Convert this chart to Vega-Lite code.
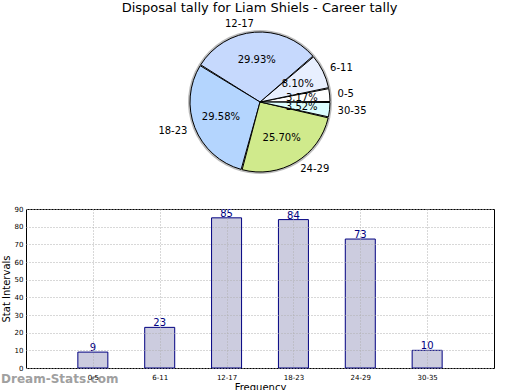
{
  "$schema": "https://vega.github.io/schema/vega-lite/v6.json",
  "padding": {"left": 0, "top": 2, "right": 0, "bottom": 0},
  "background": "white",
  "config": {
    "font": "DejaVu Sans",
    "view": {"stroke": "black", "strokeWidth": 1},
    "concat": {"spacing": 17}
  },
  "title": {"text": "Disposal tally for Liam Shiels - Career tally", "fontSize": 13, "fontWeight": "normal", "font": "DejaVu Sans", "color": "black", "offset": 2, "anchor": "middle", "dx": 12},
  "data": {
    "values": [
      {"idx": 0, "range": "0-5", "count": 9, "pct": "3.17%"},
      {"idx": 1, "range": "6-11", "count": 23, "pct": "8.10%"},
      {"idx": 2, "range": "12-17", "count": 85, "pct": "29.93%"},
      {"idx": 3, "range": "18-23", "count": 84, "pct": "29.58%"},
      {"idx": 4, "range": "24-29", "count": 73, "pct": "25.70%"},
      {"idx": 5, "range": "30-35", "count": 10, "pct": "3.52%"}
    ]
  },
  "vconcat": [
    {
      "width": 468,
      "height": 170,
      "view": {"stroke": null},
      "encoding": {
        "theta": {"field": "count", "type": "quantitative", "stack": true, "scale": {"range": [1.5708, -4.7124]}},
        "order": {"field": "idx", "type": "quantitative"}
      },
      "layer": [
        {
          "mark": {"type": "arc", "outerRadius": 72, "opacity": 0.5},
          "encoding": {"color": {"value": "#777777"}}
        },
        {
          "mark": {"type": "arc", "outerRadius": 70, "stroke": "black", "strokeWidth": 1, "padAngle": 0.015},
          "encoding": {
            "color": {"field": "range", "type": "nominal",
              "scale": {"domain": ["0-5", "6-11", "12-17", "18-23", "24-29", "30-35"],
                        "range": ["#ffffff", "#e8effe", "#c6d9fd", "#b4d5fe", "#d0ea8c", "#dbfdfe"]},
              "legend": null}
          }
        },
        {
          "mark": {"type": "text", "radius": 42, "fontSize": 10},
          "encoding": {"text": {"field": "pct", "type": "nominal"}, "color": {"value": "black"}}
        },
        {
          "mark": {"type": "text", "radius": 78, "fontSize": 10, "align": "left"},
          "encoding": {
            "text": {"field": "range", "type": "nominal", "condition": {"test": "datum.idx == 2 || datum.idx == 3", "value": ""}},
            "color": {"value": "black"}
          }
        },
        {
          "mark": {"type": "text", "radius": 78, "fontSize": 10, "align": "right"},
          "encoding": {
            "text": {"field": "range", "type": "nominal", "condition": {"test": "datum.idx != 2 && datum.idx != 3", "value": ""}},
            "color": {"value": "black"}
          }
        }
      ]
    },
    {
      "width": 468,
      "height": 159,
      "title": {"text": "Dream-Stats.com", "orient": "bottom", "anchor": "start", "frame": "bounds", "fontSize": 12, "fontWeight": "bold", "color": "#a0a0a0", "offset": -18},
      "encoding": {
        "x": {"field": "range", "type": "ordinal",
          "scale": {"type": "point", "padding": 1, "domain": ["0-5", "6-11", "12-17", "18-23", "24-29", "30-35"]},
          "axis": {"title": "Frequency", "titleFontSize": 10, "titleFontWeight": "normal", "titlePadding": 2, "titleColor": "black",
                   "labelFontSize": 7, "labelAngle": 0, "labelColor": "black", "ticks": false, "labelPadding": 5,
                   "grid": true, "gridDash": [1, 2], "gridColor": "#b0b0b0", "domain": false, "zindex": 1}},
        "y": {"field": "count", "type": "quantitative",
          "scale": {"domain": [0, 90], "nice": false},
          "axis": {"title": "Stat Intervals", "titleFontSize": 10, "titleFontWeight": "normal", "titlePadding": 3, "titleColor": "black",
                   "labelFontSize": 7, "labelColor": "black", "values": [0, 10, 20, 30, 40, 50, 60, 70, 80, 90],
                   "ticks": false, "labelPadding": 3, "grid": true, "gridDash": [1, 2], "gridColor": "#b0b0b0", "domain": false, "zindex": 1}}
      },
      "layer": [
        {"mark": {"type": "bar", "width": 30, "fill": "#ccccdf", "stroke": "#000080", "strokeWidth": 1}},
        {"mark": {"type": "text", "baseline": "bottom", "dy": 1, "fontSize": 10, "color": "#000080"},
         "encoding": {"text": {"field": "count", "type": "quantitative"}}}
      ]
    }
  ]
}
